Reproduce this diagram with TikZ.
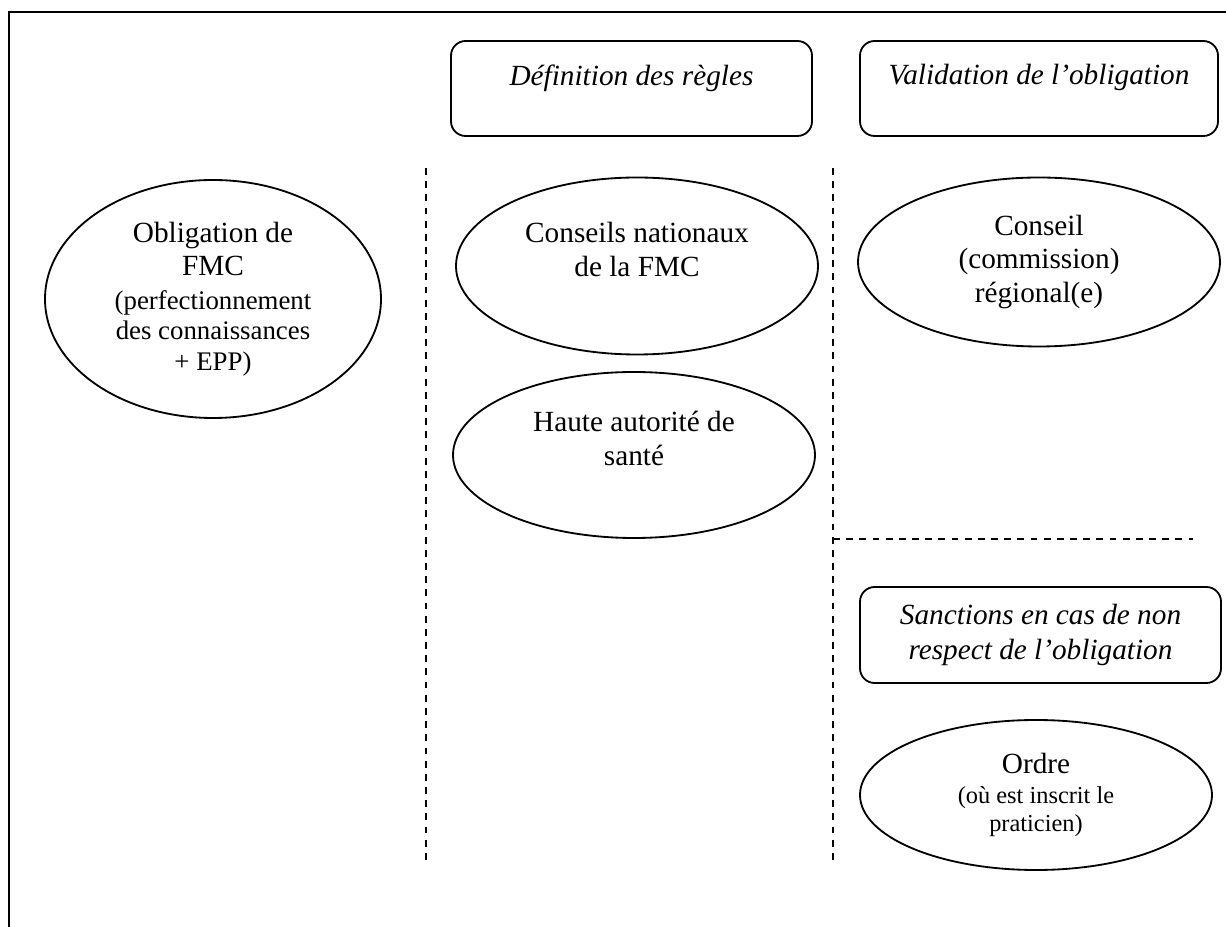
\documentclass[tikz,border=0pt]{standalone}
\usepackage{fontspec}
\setmainfont{Liberation Serif}
\usetikzlibrary{shapes.geometric}
\def\unitpx{0.41pt}
\newcommand\smalltxt{\fontsize{11}{12.5}\selectfont}
\newcommand\tinytxt{\fontsize{10}{11.5}\selectfont}

\begin{document}
\begin{tikzpicture}[
        x=0.41pt, y=-0.41pt,
        every node/.style={inner sep=0, align=center, font=\fontsize{12}{13.8}\selectfont},
        heading/.style={draw, rounded corners=6pt, line width=.75pt, font=\fontsize{12}{14.5}\selectfont\itshape},
        actor/.style={draw, ellipse, line width=.75pt},
        sep/.style={dash pattern=on 2.8pt off 2.6pt, line width=.7pt},
    ]
    \useasboundingbox (0,0) rectangle (1226,927);

    % Frame.
    \draw[line width=1pt] (9,927) -- (9,12) -- (1226,12);

    % Define column headings.
    \node[heading, minimum width=361*\unitpx, minimum height=95*\unitpx] (def) at (631.5,88.5) {D\'efinition des r\`egles\\[-3.2pt]\mbox{}};
    \node[heading, minimum width=358*\unitpx, minimum height=95*\unitpx] (val) at (1039,88.5) {Validation de l'obligation\\[-3.2pt]\mbox{}};
    \node[heading, minimum width=361*\unitpx, minimum height=96*\unitpx] (sanc) at (1040.5,635) {Sanctions en cas de non\\respect de l'obligation};

    % Define actors.
    \node[actor, minimum width=336*\unitpx, minimum height=238*\unitpx] (obl) at (213,299)
        {Obligation de\\FMC\\{\smalltxt (perfectionnement}\\[-1.3pt]{\smalltxt des connaissances}\\[-1.3pt]{\smalltxt + EPP)}};
    \node[actor, minimum width=362*\unitpx, minimum height=177*\unitpx] (cnat) at (637,266) {Conseils nationaux\\de la FMC\\\mbox{}};
    \node[actor, minimum width=362*\unitpx, minimum height=166*\unitpx] (has) at (634,455) {Haute autorit\'e de\\sant\'e\\\mbox{}};
    \node[actor, minimum width=362*\unitpx, minimum height=169*\unitpx] (creg) at (1039,262) {Conseil\\(commission)\\r\'egional(e)};
    \node[actor, minimum width=352*\unitpx, minimum height=150*\unitpx] (ordre) at (1036,795)
        {Ordre\\[-1.5pt]{\tinytxt (o\`u est inscrit le}\\[-2.3pt]{\tinytxt praticien)}};

    % Define separators.
    \coordinate (s1) at (426,168);
    \coordinate (s1e) at (426,860);
    \coordinate (s2) at (833,168);
    \coordinate (s2e) at (833,860);
    \coordinate (s3) at (833,539);
    \coordinate (s3e) at (1193,539);

    \draw[sep] (s1) -- (s1e);
    \draw[sep] (s2) -- (s2e);
    \draw[sep] (s3) -- (s3e);
\end{tikzpicture}
\end{document}
